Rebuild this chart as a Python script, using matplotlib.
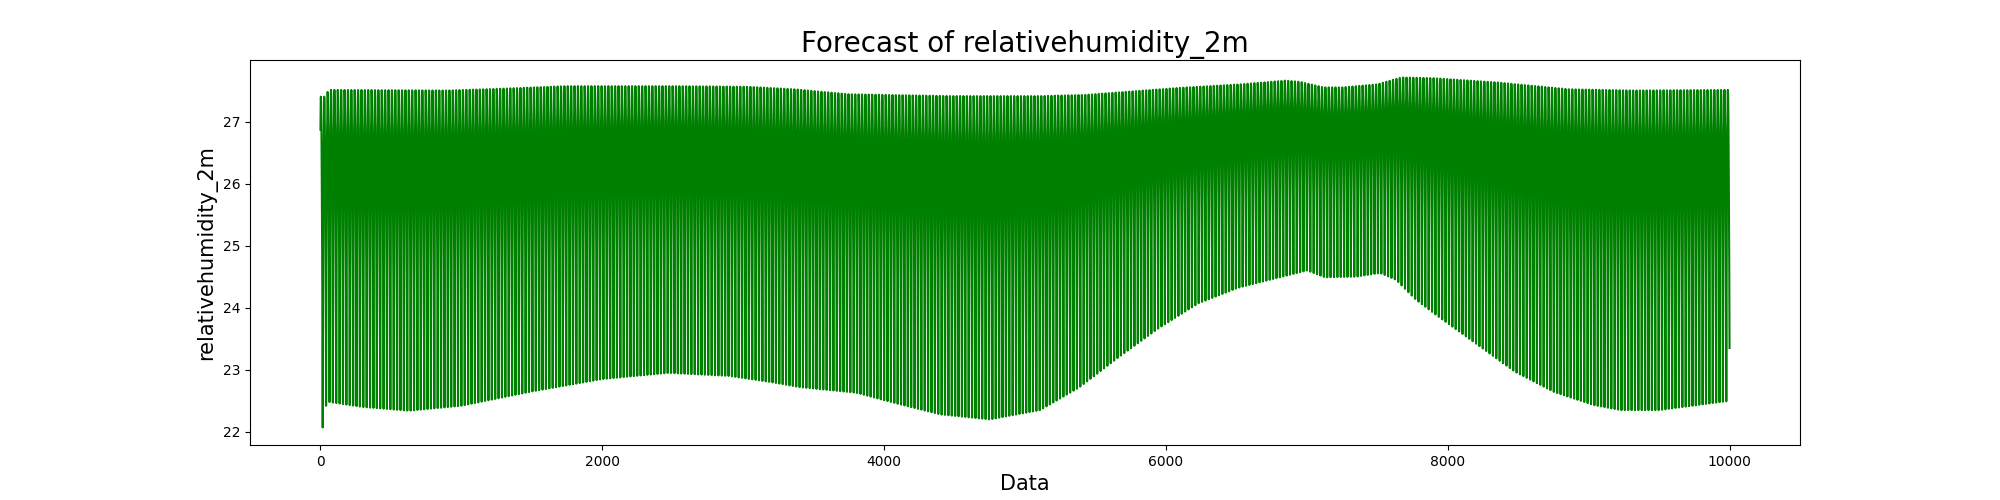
import numpy as np
import matplotlib
matplotlib.use('Agg')
import matplotlib.pyplot as plt

# hourly forecast, 10000 steps
n_steps = 10000

# upper envelope (daily maxima)
upper_x = [0, 30, 60, 900, 1300, 1740, 2500, 3036, 3360, 3750, 4460, 5110,
           5430, 6080, 6530, 6850, 6950, 7120, 7250, 7500, 7670, 7890, 8350,
           8860, 9320, 10000]
upper_y = [27.40, 27.40, 27.51, 27.50, 27.53, 27.57, 27.57, 27.56, 27.52,
           27.44, 27.41, 27.41, 27.43, 27.54, 27.60, 27.66, 27.64, 27.55,
           27.55, 27.60, 27.71, 27.70, 27.63, 27.52, 27.50, 27.51]

# lower envelope (daily minima)
lower_x = [0, 16, 40, 64, 300, 630, 1000, 1500, 2000, 2470, 2900, 3200,
           3400, 3800, 4100, 4400, 4750, 5107, 5387, 5668, 5948, 6229, 6510,
           6790, 7001, 7127, 7350, 7519, 7632, 7773, 7913, 8194, 8475, 8755,
           9036, 9226, 9500, 10000]
lower_y = [22.07, 22.07, 22.42, 22.48, 22.40, 22.34, 22.42, 22.65, 22.85,
           22.95, 22.90, 22.80, 22.72, 22.63, 22.45, 22.28, 22.20, 22.35,
           22.72, 23.21, 23.67, 24.07, 24.32, 24.48, 24.60, 24.49, 24.50,
           24.56, 24.45, 24.13, 23.89, 23.43, 22.97, 22.64, 22.43, 22.35,
           22.35, 22.50]

# position inside the daily range for each hour of the day (0 = min, 1 = max)
day_profile = [0.90, 0.96, 0.99, 1.00, 0.99, 0.98, 0.95, 0.91, 0.85, 0.78,
               0.70, 0.62, 0.53, 0.43, 0.31, 0.17, 0.00, 0.18, 0.40, 0.57,
               0.69, 0.78, 0.84, 0.88]

x = np.arange(n_steps)
hi = np.interp(x, upper_x, upper_y)
lo = np.interp(x, lower_x, lower_y)
frac = np.array(day_profile)[x % 24]
y = lo + (hi - lo) * frac

plt.figure(figsize=(20, 5))
plt.plot(x, y, color='green')
plt.title('Forecast of relativehumidity_2m', fontsize=20)
plt.xlabel('Data', fontsize=15)
plt.ylabel('relativehumidity_2m', fontsize=15)
plt.savefig('out.png', dpi=100)
